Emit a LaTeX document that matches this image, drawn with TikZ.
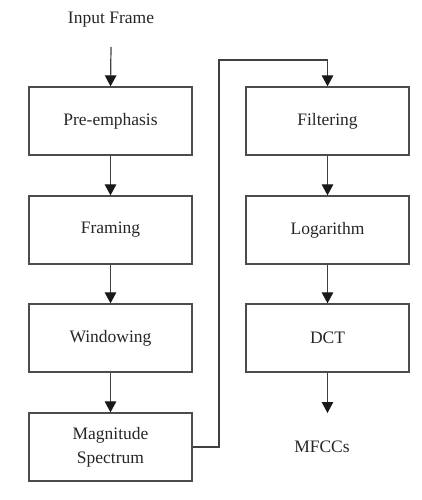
\documentclass[tikz,border=0pt]{standalone}
\usepackage{fontspec}
\setmainfont{Liberation Serif}
\usetikzlibrary{arrows.meta}
\begin{document}
\begin{tikzpicture}[x=1pt,y=-1pt,
  stepbox/.style={draw=black!70,line width=1.3pt,minimum width=163pt,minimum height=68pt,inner sep=0pt,align=center,font=\fontsize{17.5}{24}\selectfont,text=black!85},
  lbl/.style={font=\fontsize{17.5}{22}\selectfont,text=black!85,inner sep=0pt},
  conn/.style={draw=black!75,line width=1.2pt,-{Triangle[length=11pt,width=11.5pt,color=black!90]}}]
\useasboundingbox (0,0) rectangle (422,500);
\node[lbl] (in) at (111,20) {Input Frame};
\coordinate (ins) at (111,47);
\node[stepbox] (pre) at (110.5,121) {Pre-emphasis};
\node[stepbox] (fra) at (110.5,230) {Framing};
\node[stepbox] (win) at (110.5,338) {Windowing};
\node[stepbox] (mag) at (110.5,447) {Magnitude\\Spectrum};
\node[stepbox] (fil) at (327.5,121) {Filtering};
\node[stepbox] (log) at (327.5,230) {Logarithm};
\node[stepbox] (dct) at (327.5,338) {DCT};
\coordinate (dcte) at (327.5,413);
\node[lbl] (mfcc) at (322,447) {MFCCs};
\draw[conn] (ins) -- (pre.north);
\draw[conn] (pre) -- (fra);
\draw[conn] (fra) -- (win);
\draw[conn] (win) -- (mag);
\draw[conn] (mag.east) -| (219,60) -| (fil.north);
\draw[conn] (fil) -- (log);
\draw[conn] (log) -- (dct);
\draw[conn] (dct.south) -- (dcte);
\end{tikzpicture}
\end{document}
